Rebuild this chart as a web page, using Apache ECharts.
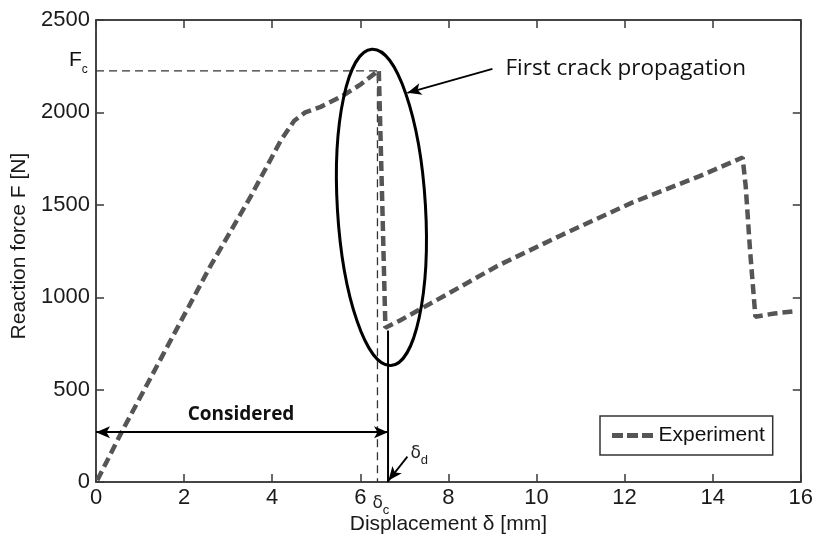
<!DOCTYPE html>
<html>
<head>
<meta charset="utf-8">
<script src="https://cdn.jsdelivr.net/npm/echarts@6/dist/echarts.min.js"></script>
<style>
html,body{margin:0;padding:0;background:#fff;}
#chart{width:816px;height:540px;}
</style>
</head>
<body>
<div id="chart"></div>
<script>
// ---- data ----
const expX = [0.03, 0.58, 1.5, 2.6, 3.5, 4.2, 4.5, 4.75, 5.1, 5.6, 6.0, 6.42, 6.45, 6.5, 6.57, 6.6, 6.89, 8.0, 9.1, 10.6, 12.17, 13.69, 14.68, 14.75, 14.85, 14.97, 15.4, 15.88];
const expY = [10, 270, 680, 1170, 1540, 1850, 1955, 2000, 2030, 2090, 2150, 2228, 2220, 1500, 835, 830, 873, 1020, 1168, 1340, 1512, 1654, 1756, 1600, 1250, 895, 912, 925];
const xTicks = {min: 0, max: 16, interval: 2};
const yTicks = {min: 0, max: 2500, interval: 500};
const Fc = 2225;          // peak force
const deltaC = 6.39;      // displacement at peak
const deltaD = 6.63;      // displacement after drop
const deltaDTopF = 820;   // top of solid delta_d line
const consideredF = 270;  // height of "Considered" arrow
const ellipseCenter = [6.48, 1486];
const ellipseHalf = [1.0, 857];   // half width [mm], half height [N]
const crackArrow = [[9.0, 2236], [7.07, 2106]];
const ddArrow = [[7.07, 138], [6.64, 8]];
const crackText = 'First crack propagation';

const fcLine = [[0, Fc], [deltaC, Fc], [deltaC, 0]];
const ddLine = [[deltaD, 0], [deltaD, deltaDTopF]];

const chart = echarts.init(document.getElementById('chart'));
const axisCol = '#3a3a3a';
const font = 'Liberation Sans, Arial, sans-serif';
const tickStyle = {show: true, inside: true, length: 8, lineStyle: {color: axisCol, width: 1.5}};
const lineAxis = {show: true, onZero: false, lineStyle: {color: axisCol, width: 1.5}};
const fmt = v => String(v);

const option = {
  animation: false,
  backgroundColor: '#fff',
  grid: {left: 96, right: 14, top: 20, bottom: 56.5, containLabel: false,
         show: true, borderColor: axisCol, borderWidth: 1.5, backgroundColor: 'transparent'},
  xAxis: [{
    type: 'value', min: xTicks.min, max: xTicks.max, interval: xTicks.interval,
    name: 'Displacement δ [mm]', nameLocation: 'middle', nameGap: 29,
    nameTextStyle: {fontFamily: font, fontSize: 21, color: '#1a1a1a'},
    axisLine: lineAxis, axisTick: tickStyle,
    axisLabel: {fontFamily: font, fontSize: 22, color: '#1a1a1a', margin: 5, formatter: fmt},
    splitLine: {show: false}
  }, {
    type: 'value', position: 'top', min: xTicks.min, max: xTicks.max, interval: xTicks.interval,
    axisLine: lineAxis, axisTick: tickStyle,
    axisLabel: {show: false}, splitLine: {show: false}
  }],
  yAxis: [{
    type: 'value', min: yTicks.min, max: yTicks.max, interval: yTicks.interval,
    name: 'Reaction force F [N]', nameLocation: 'middle', nameGap: 54,
    nameTextStyle: {fontFamily: font, fontSize: 21, color: '#1a1a1a', padding: [0, 0, 0, 10]},
    axisLine: lineAxis, axisTick: tickStyle,
    axisLabel: {fontFamily: font, fontSize: 22, color: '#1a1a1a', margin: 6, formatter: fmt},
    splitLine: {show: false}
  }, {
    type: 'value', position: 'right', min: yTicks.min, max: yTicks.max, interval: yTicks.interval,
    axisLine: lineAxis, axisTick: tickStyle,
    axisLabel: {show: false}, splitLine: {show: false}
  }],
  legend: {
    data: [{name: 'Experiment', icon: 'path://M0,0H11V5H0Z M15,0H26V5H15Z M30,0H41V5H30Z'}],
    left: 600, top: 416,
    padding: [9, 8, 9, 12], itemWidth: 42, itemHeight: 5, itemGap: 5,
    borderColor: '#333', borderWidth: 1.5, borderRadius: 0, backgroundColor: '#fff',
    textStyle: {fontFamily: font, fontSize: 21, color: '#111'},
    selectedMode: false
  },
  series: [
    {
      name: 'Experiment', type: 'line', symbol: 'none', z: 3,
      data: expX.map((x, i) => [x, expY[i]]),
      lineStyle: {color: '#555', width: 4.5, type: [10, 5], cap: 'butt'},
      itemStyle: {color: '#555'}
    },
    {
      name: 'fc', type: 'line', symbol: 'none', z: 2, silent: true,
      data: fcLine,
      lineStyle: {color: '#333', width: 1.3, type: [8, 5]}
    },
    {
      name: 'frame', type: 'line', symbol: 'none', xAxisIndex: 1, yAxisIndex: 1, silent: true,
      data: []
    },
    {
      name: 'dd', type: 'line', symbol: 'none', z: 4, silent: true,
      data: ddLine,
      lineStyle: {color: '#000', width: 2, type: 'solid'},
      markLine: {
        silent: true, animation: false,
        label: {show: false},
        data: [
          [{coord: [0, consideredF], symbol: 'arrow'}, {coord: [deltaD, consideredF], symbol: 'arrow'}],
          [{coord: crackArrow[0], symbol: 'none'}, {coord: crackArrow[1], symbol: 'arrow'}],
          [{coord: ddArrow[0], symbol: 'none'}, {coord: ddArrow[1], symbol: 'arrow'}]
        ],
        symbolSize: [9, 14],
        lineStyle: {color: '#000', width: 1.8, type: 'solid'}
      }
    }
  ]
};
chart.setOption(option);

function px(p) { return chart.convertToPixel({xAxisIndex: 0, yAxisIndex: 0}, p); }
const c = px(ellipseCenter);
const e1 = px([ellipseCenter[0] + ellipseHalf[0], ellipseCenter[1] + ellipseHalf[1]]);
const rx = e1[0] - c[0], ry = c[1] - e1[1];
const ct = px(crackArrow[0]);
const fcp = px([0, Fc]);
const dcp = px([deltaC, 0]);
const ddp = px(ddArrow[0]);
const consP = px([deltaD / 2, consideredF]);

chart.setOption({
  graphic: [
    {type: 'ellipse', x: c[0], y: c[1], rotation: 0.06, z: 10,
     shape: {cx: 0, cy: 0, rx: rx, ry: ry},
     style: {fill: 'none', stroke: '#000', lineWidth: 3}},
    {type: 'text', x: ct[0] + 13, y: ct[1], z: 10,
     style: {text: crackText, fontFamily: 'Open Sans, sans-serif', fontSize: 22.5,
             fill: '#111', verticalAlign: 'middle', align: 'left'}},
    {type: 'text', x: consP[0] - 1, y: consP[1] - 8, z: 10,
     style: {text: 'Considered', fontFamily: 'Open Sans, sans-serif', fontWeight: 'bold', fontSize: 19,
             fill: '#111', verticalAlign: 'bottom', align: 'center'}},
    {type: 'text', x: fcp[0] - 27, y: fcp[1] - 21, z: 10,
     style: {text: '{a|F}{b|c}', fill: '#111',
             rich: {a: {fontFamily: font, fontSize: 21, fill: '#111', verticalAlign: 'top'},
                    b: {fontFamily: font, fontSize: 12, fill: '#111', padding: [14, 0, 0, 0]}}}},
    {type: 'text', x: dcp[0] - 5, y: dcp[1] + 8, z: 10,
     style: {text: '{a|δ}{b|c}', fill: '#222',
             rich: {a: {fontFamily: 'DejaVu Sans, sans-serif', fontSize: 17, fill: '#222'},
                    b: {fontFamily: font, fontSize: 13, fill: '#222', padding: [14, 0, 0, 0]}}}},
    {type: 'text', x: ddp[0] + 3, y: ddp[1] - 17, z: 10,
     style: {text: '{a|δ}{b|d}', fill: '#222',
             rich: {a: {fontFamily: 'DejaVu Sans, sans-serif', fontSize: 17, fill: '#222'},
                    b: {fontFamily: font, fontSize: 13, fill: '#222', padding: [14, 0, 0, 0]}}}}
  ]
});
</script>
</body>
</html>
